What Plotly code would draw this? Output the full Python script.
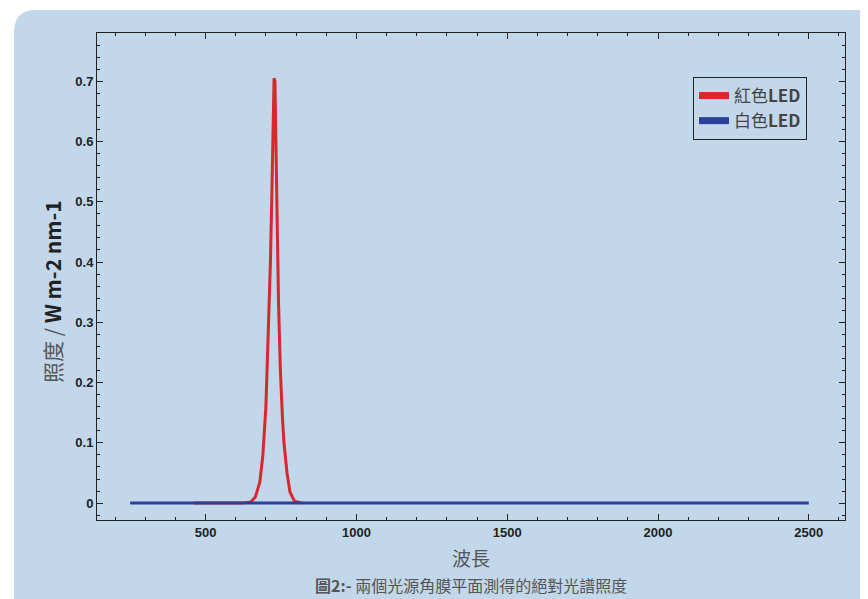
import plotly.graph_objects as go

# Data
red_wavelength = [460, 620, 650, 665, 680, 690, 700, 710, 715, 720, 724, 727, 730, 734, 738, 742, 748, 755, 760, 770, 780, 795, 820]
red_irradiance = [0.0, 0.0, 0.002, 0.01, 0.035, 0.08, 0.16, 0.3, 0.4, 0.52, 0.65, 0.705, 0.70, 0.60, 0.45, 0.33, 0.22, 0.14, 0.10, 0.05, 0.018, 0.003, 0.0]
white_wavelength = [250, 500, 1000, 1500, 2000, 2500]
white_irradiance = [0.0, 0.0, 0.0, 0.0, 0.0, 0.0]

series_names = ["紅色<b>LED</b>", "白色<b>LED</b>"]
x_ticks = [500, 1000, 1500, 2000, 2500]
y_ticks = [0, 0.1, 0.2, 0.3, 0.4, 0.5, 0.6, 0.7]

RED = "#d7282c"
BLUE = "#2b3f9c"
CARD = "#c2d7ea"
FONT = "Liberation Sans, Noto Sans CJK TC, sans-serif"
CJK = "Noto Sans CJK TC, sans-serif"

fig = go.Figure()
fig.add_trace(go.Scatter(x=red_wavelength, y=red_irradiance, mode="lines",
                         line=dict(color=RED, width=3), showlegend=False))
fig.add_trace(go.Scatter(x=white_wavelength, y=white_irradiance, mode="lines",
                         line=dict(color=BLUE, width=3), showlegend=False))
# legend entries
fig.add_trace(go.Scatter(x=[None], y=[None], mode="lines", name=series_names[0],
                         line=dict(color=RED, width=7)))
fig.add_trace(go.Scatter(x=[None], y=[None], mode="lines", name=series_names[1],
                         line=dict(color=BLUE, width=7)))

# page has an 8px body margin; figure occupies (8,8)-(868,599)
OFF = 8
W, H = 868 - OFF, 599 - OFF
L, T = 97 - OFF, 33 - OFF
R = W - (845 - OFF)
B = H - (520 - OFF)
pw, ph = W - L - R, H - T - B

def px(xp):
    return (xp - OFF - L) / pw

def py(yp):
    return 1 - (yp - OFF - T) / ph

x0, y0 = px(14), py(10)
x1, yb = px(900), py(640)
rx, ry = 22 / pw, 22 / ph
card_path = (f"M {x0},{yb} L {x0},{y0 - ry} Q {x0},{y0} {x0 + rx},{y0} "
             f"L {x1},{y0} L {x1},{yb} Z")

fig.update_layout(
    width=W, height=H,
    margin=dict(l=L, r=R, t=T, b=B),
    paper_bgcolor="white",
    plot_bgcolor="rgba(0,0,0,0)",
    shapes=[dict(type="path", path=card_path, xref="paper", yref="paper",
                 fillcolor=CARD, line=dict(width=0), layer="below")],
    font=dict(family=FONT, color="#222"),
    legend=dict(x=px(693), y=py(77), xanchor="left", yanchor="top",
                bgcolor="rgba(0,0,0,0)", bordercolor="#222", borderwidth=1,
                font=dict(family=CJK, size=17, color="#444"),
                itemwidth=30, tracegroupgap=0),
    annotations=[
        dict(text="波長", x=px(471), y=py(557), xref="paper", yref="paper",
             xanchor="center", yanchor="middle",
             showarrow=False, font=dict(family=CJK, size=19, color="#555")),
        dict(text="<b>圖2:-</b> 兩個光源角膜平面測得的絕對光譜照度", x=px(471), y=py(585),
             xref="paper", yref="paper", showarrow=False,
             xanchor="center", yanchor="middle",
             font=dict(family=CJK, size=16, color="#555")),
        dict(text="<span style='color:#555'>照度 / </span><b>W m-2 nm-1</b>",
             x=px(52), y=py(292), xref="paper", yref="paper", showarrow=False,
             xanchor="center", yanchor="middle",
             textangle=-90, font=dict(family=CJK, size=21, color="#222")),
    ],
)

fig.update_xaxes(
    range=[140, 2620], tickvals=x_ticks, ticks="inside", ticklen=6,
    tickcolor="#222", showline=True, linecolor="#222", linewidth=1,
    mirror="ticks", showgrid=False, zeroline=False,
    tickfont=dict(family=FONT, size=13, color="#222", weight="bold"),
    minor=dict(dtick=100, tick0=0, ticks="inside", ticklen=3, tickcolor="#222"),
)
fig.update_yaxes(
    range=[-0.028, 0.78], tickvals=y_ticks, ticks="inside", ticklen=6,
    tickcolor="#222", showline=True, linecolor="#222", linewidth=1,
    mirror="ticks", showgrid=False, zeroline=False,
    tickfont=dict(family=FONT, size=13, color="#222", weight="bold"),
    minor=dict(dtick=0.02, tick0=0, ticks="inside", ticklen=3, tickcolor="#222"),
)

fig.write_html("out.html")
